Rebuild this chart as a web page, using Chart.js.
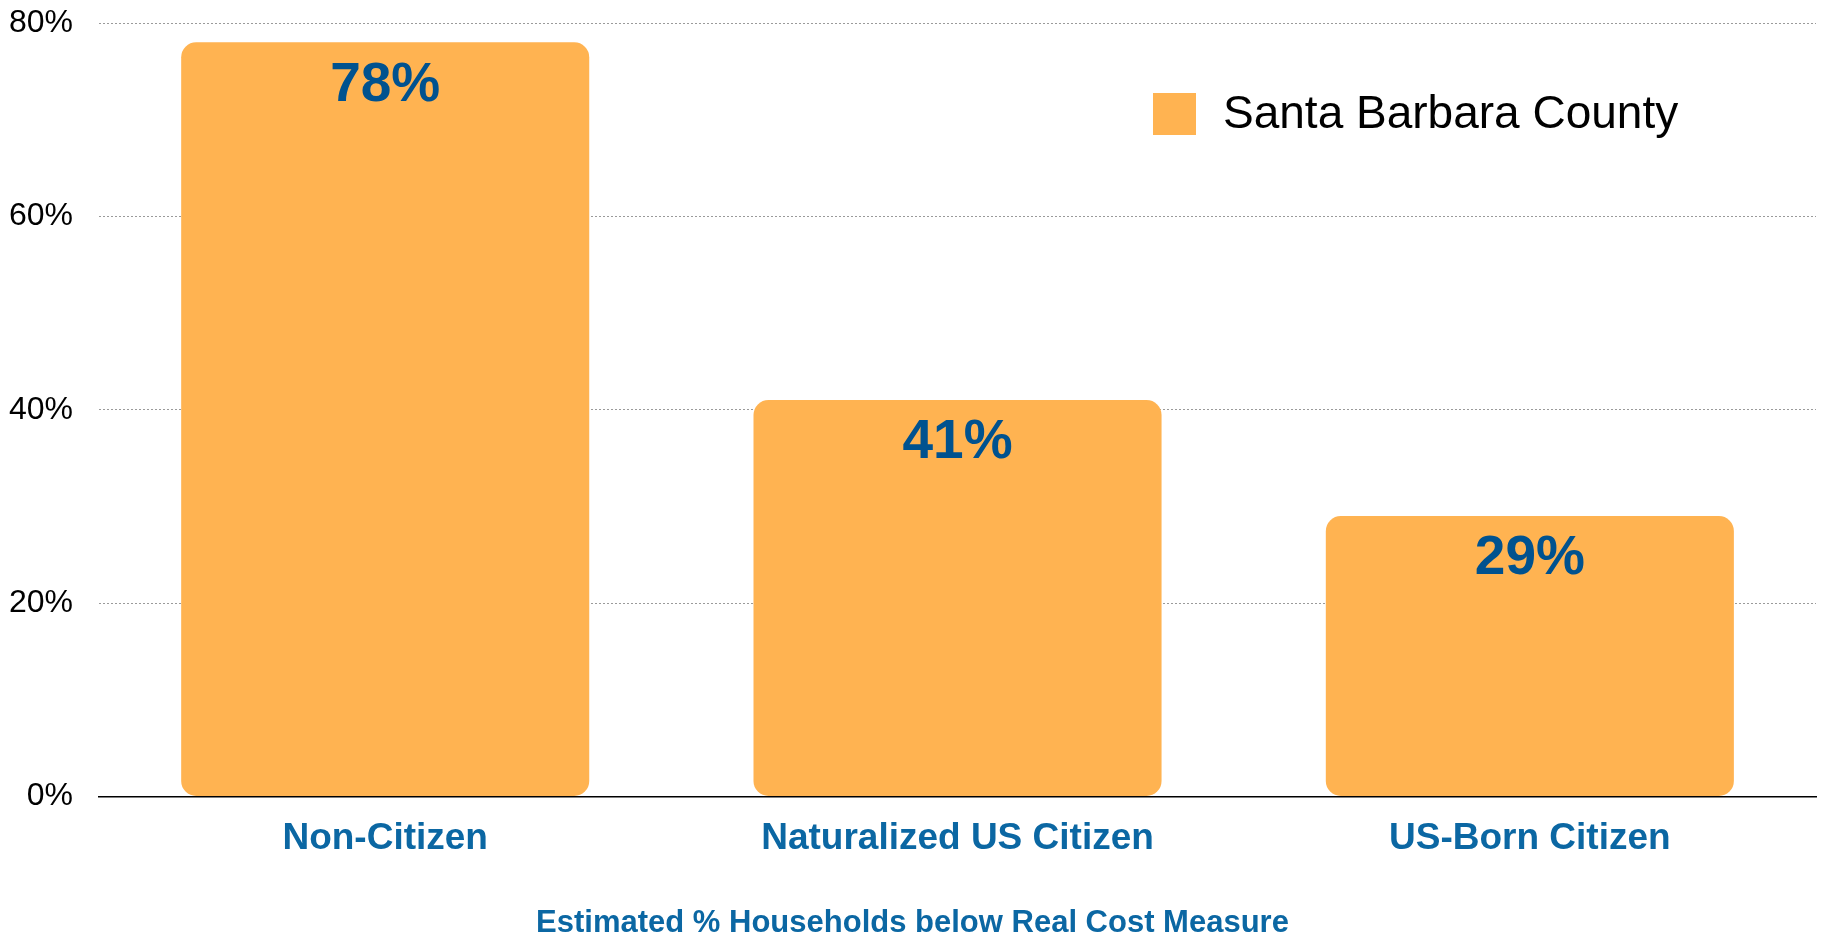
<!DOCTYPE html>
<html>
<head>
<meta charset="utf-8">
<script src="https://cdn.jsdelivr.net/npm/chart.js@4"></script>
<style>
html,body{margin:0;padding:0;background:#fff;}
#wrap{width:1823px;height:938px;position:relative;}
</style>
</head>
<body>
<div id="wrap"><canvas id="c" width="1823" height="938"></canvas></div>
<script>
const categories = ["Non-Citizen", "Naturalized US Citizen", "US-Born Citizen"];
const seriesName = "Santa Barbara County";
const values = [78, 41, 29];
const yTicks = [0, 20, 40, 60, 80];
const xTitle = "Estimated % Households below Real Cost Measure";

const FONT = "'Liberation Sans', Arial, sans-serif";
const BAR = "#FFB351";
const DARKBLUE = "#00528F";
const AXISBLUE = "#0B67A3";

const dataLabels = {
  id: 'dataLabels',
  afterDatasetsDraw(chart) {
    const ctx = chart.ctx;
    const meta = chart.getDatasetMeta(0);
    ctx.save();
    ctx.font = "bold 55px " + FONT;
    ctx.fillStyle = DARKBLUE;
    ctx.textAlign = 'center';
    ctx.textBaseline = 'middle';
    meta.data.forEach((bar, i) => {
      ctx.fillText(chart.data.datasets[0].data[i] + '%', bar.x, bar.y + 43);
    });
    ctx.restore();
  }
};

const customLegend = {
  id: 'customLegend',
  afterDraw(chart) {
    const ctx = chart.ctx;
    const ds = chart.data.datasets[0];
    ctx.save();
    ctx.fillStyle = ds.backgroundColor;
    ctx.fillRect(1153, 93, 43, 42);
    ctx.fillStyle = '#000';
    ctx.font = "46px " + FONT;
    ctx.textAlign = 'left';
    ctx.textBaseline = 'middle';
    ctx.fillText(ds.label, 1223, 115);
    ctx.restore();
  }
};

new Chart(document.getElementById('c'), {
  type: 'bar',
  data: {
    labels: categories,
    datasets: [{
      label: seriesName,
      data: values,
      backgroundColor: BAR,
      borderRadius: 15,
      borderSkipped: false,
      barPercentage: 0.713,
      categoryPercentage: 1.0
    }]
  },
  options: {
    responsive: false,
    animation: false,
    devicePixelRatio: 1,
    layout: { padding: { left: 9, right: 7, top: 23, bottom: -4 } },
    plugins: {
      legend: { display: false },
      tooltip: { enabled: false },
      title: {
        display: true,
        position: 'bottom',
        text: xTitle,
        color: AXISBLUE,
        font: { family: FONT, size: 31, weight: 'bold' },
        padding: { top: 24, bottom: 0 }
      }
    },
    scales: {
      x: {
        grid: { display: false, drawTicks: false },
        border: { display: true, color: '#000', width: 1.5 },
        ticks: {
          color: AXISBLUE,
          font: { family: FONT, size: 37, weight: 'bold' },
          padding: 20
        }
      },
      y: {
        min: 0,
        max: 80,
        afterBuildTicks(axis) { axis.ticks = yTicks.map(v => ({ value: v })); },
        grid: {
          color: '#9a9a9a',
          lineWidth: 1,
          drawTicks: true,
          tickLength: 26,
          tickColor: 'rgba(0,0,0,0)'
        },
        border: { display: false, dash: [2, 2] },
        ticks: {
          color: '#000',
          font: { family: FONT, size: 32 },
          padding: 0,
          callback: v => v + '%'
        }
      }
    }
  },
  plugins: [dataLabels, customLegend]
});
</script>
</body>
</html>
